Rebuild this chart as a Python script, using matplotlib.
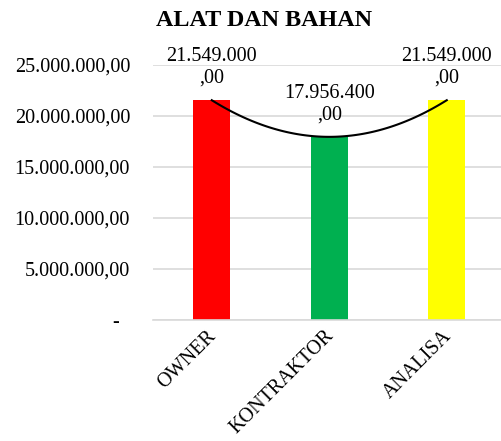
import matplotlib
matplotlib.use('Agg')
import matplotlib.pyplot as plt
import matplotlib.transforms as mtransforms
import numpy as np

categories = ['OWNER', 'KONTRAKTOR', 'ANALISA']
values = [21549000, 17956400, 21549000]
colors = ['#FF0000', '#00B050', '#FFFF00']
yticks = [0, 5000000, 10000000, 15000000, 20000000, 25000000]

plt.rcParams['font.family'] = ['Liberation Serif', 'DejaVu Serif']


def idr(v):
  # 21549000 -> 21.549.000,00
  s = '{:,.2f}'.format(v)
  return s.replace(',', '#').replace('.', ',').replace('#', '.')


def tick_label(v):
  if v == 0:
    return '-  '
  return idr(v)


fig = plt.figure(figsize=(5.02, 4.41), dpi=100)
ax = fig.add_axes([153 / 502, 1 - 320 / 441, 1 - 153 / 502, (320 - 65) / 441])

x = np.arange(len(categories))
ax.bar(x, values, width=0.315, color=colors, zorder=2)

# polynomial (order 2) trendline through the bars
coef = np.polyfit(x, values, 2)
xs = np.linspace(x[0], x[-1], 100)
ax.plot(xs, np.polyval(coef, xs), color='black', lw=1.5, zorder=3)

for xi, v in zip(x, values):
  s = idr(v)
  head, tail = s.split(',')
  ax.annotate(head + '\n,' + tail, (xi, v), xytext=(0, 9), textcoords='offset points',
              ha='center', va='bottom', fontsize=14.5, linespacing=1.2, zorder=4)

ax.set_xlim(-0.5, 2.47)
ax.set_ylim(0, 25000000)
ax.set_yticks(yticks)
ax.set_yticklabels([tick_label(v) for v in yticks], fontsize=14.5)
ax.set_xticks(x)
ax.set_xticklabels(categories, fontsize=14.5, rotation=45, ha='right', rotation_mode='anchor')
ax.tick_params(axis='both', length=0)
ax.tick_params(axis='y', pad=16.5)
ax.tick_params(axis='x', pad=7)

# nudge the rotated labels a little left, keep them inside the figure
shift = mtransforms.ScaledTranslation(-5 / 100, 3 / 100, fig.dpi_scale_trans)
for lab in ax.get_xticklabels():
  lab.set_transform(lab.get_transform() + shift)

ax.grid(axis='y', color='#d9d9d9', lw=1.2, zorder=0)
for side in ['left', 'right', 'top']:
  ax.spines[side].set_visible(False)
ax.spines['bottom'].set_color('#d9d9d9')
ax.spines['bottom'].set_linewidth(1.2)

fig.text(264 / 502, 1 - 21 / 441, 'ALAT DAN BAHAN', ha='center', va='center',
         fontsize=17.4, fontweight='bold')

fig.savefig('out.png', dpi=100)
